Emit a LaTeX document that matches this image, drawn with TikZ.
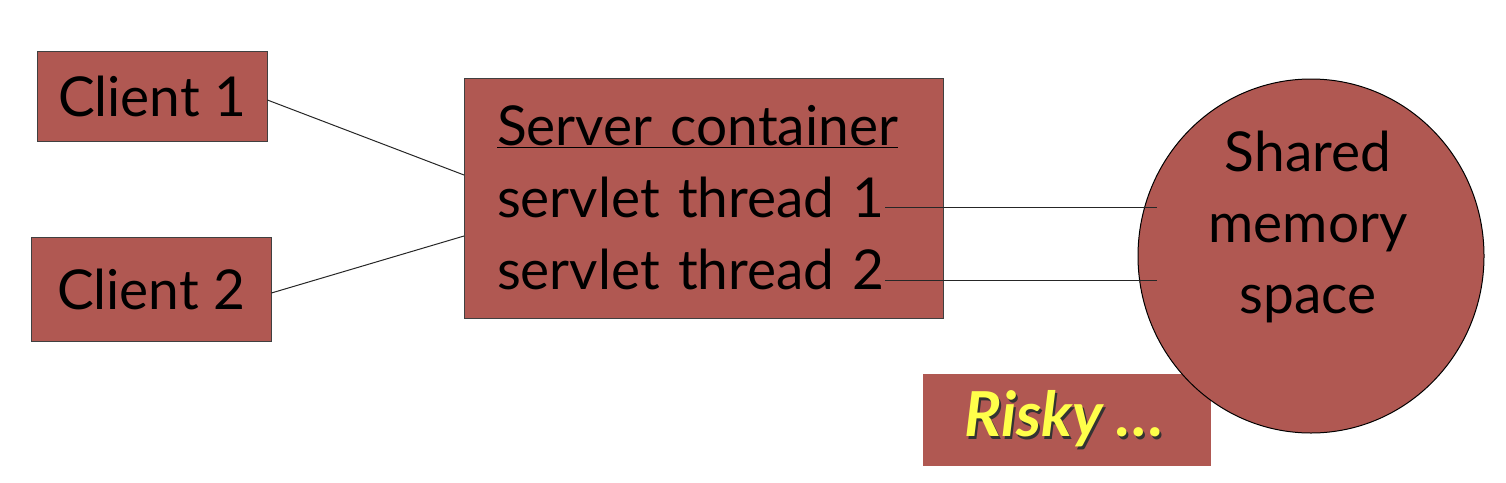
\documentclass[tikz,border=0pt]{standalone}
\usepackage{fontspec}
\setmainfont{Lato}
\usetikzlibrary{shapes.geometric}
\definecolor{boxred}{HTML}{B05852}
\definecolor{riskyyellow}{HTML}{FFFF4A}
\begin{document}
\begin{tikzpicture}[x=1pt,y=-1pt,
  redbox/.style={rectangle, fill=boxred, draw=black!75, line width=0.8pt, inner sep=0pt},
  bigtext/.style={font=\fontsize{55}{72}\selectfont},
  link/.style={draw=black!85, line width=1pt}]
\useasboundingbox (0,0) rectangle (1506,482);
% clients
\node[redbox, minimum width=230, minimum height=90, bigtext] (c1) at (152,96) {Client 1};
\node[redbox, minimum width=240, minimum height=104, bigtext] (c2) at (151,289) {Client 2};
% server
\node[redbox, minimum width=479, minimum height=240, align=left, text width=413, inner xsep=33,
  font=\fontsize{55}{72}\selectfont] (srv) at (703.5,198)
  {\underline{Server container}\\servlet thread 1\\servlet thread 2};
% risky box
\node[rectangle, fill=boxred, inner sep=0pt, minimum width=288, minimum height=92] (risky) at (1067,420) {};
\node[font=\fontsize{62}{70}\selectfont\bfseries\itshape, text=black!80, inner sep=0pt] at (1066.5,421.5) {Risky \ldots};
\node[font=\fontsize{62}{70}\selectfont\bfseries\itshape, text=riskyyellow, inner sep=0pt] (rtext) at (1064.5,419) {Risky \ldots};
% ellipse
\node[ellipse, fill=boxred, draw=black, line width=1pt, minimum width=346, minimum height=354, inner sep=0pt] (mem) at (1311,256) {};
\node[align=center, font=\fontsize{55}{71}\selectfont, inner sep=0pt] (memtext) at (1308,227) {Shared\\memory\\space};
% connectors
\coordinate (t1) at (885,207);
\coordinate (t2) at (885,280);
\coordinate (m1) at (1157,207);
\coordinate (m2) at (1157,280);
\coordinate (s1) at (464,175);
\coordinate (s2) at (464,236);
\draw[link] (c1.east |- 0,100) -- (s1);
\draw[link] (c2.east |- 0,293) -- (s2);
\draw[link] (t1) -- (m1);
\draw[link] (t2) -- (m2);
\end{tikzpicture}
\end{document}
